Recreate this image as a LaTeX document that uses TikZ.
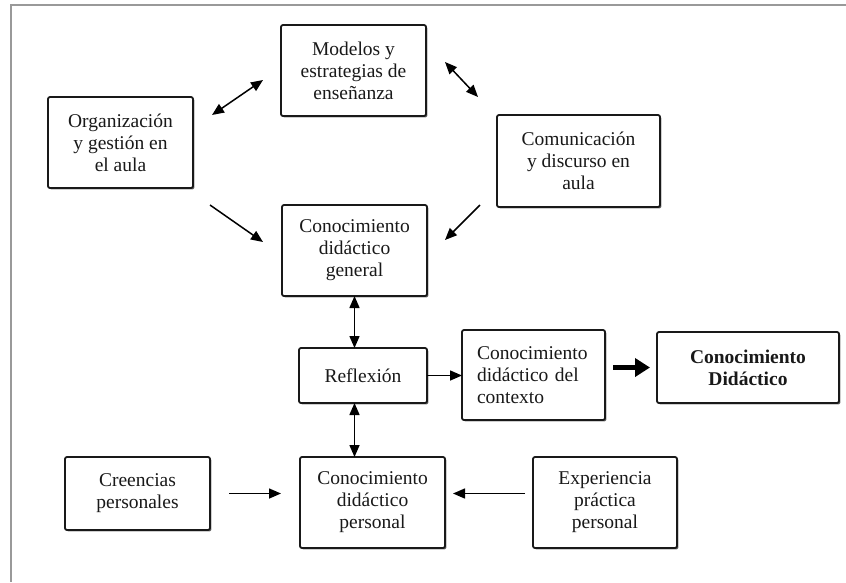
\documentclass[tikz,border=0pt]{standalone}
\usepackage{fontspec}
\setmainfont{Liberation Serif}
\usetikzlibrary{positioning,arrows.meta,shadows}

\begin{document}
\begin{tikzpicture}[
    x=1pt, y=-1pt,
    font=\fontsize{19.5}{22}\selectfont,
    >={Triangle[length=12pt,width=10pt]},
    box/.style={draw, black!90, text=black!90, line width=1.8pt, rounded corners=2pt,
      fill=white, outer sep=0pt, inner sep=3pt, align=center,
      minimum width=145pt, minimum height=91pt,
      drop shadow={shadow xshift=1.4pt, shadow yshift=-1.4pt, fill=black!55, opacity=1}},
    op/.style={->, line width=1.5pt},
    dop/.style={<->, line width=1.5pt},
    fat/.style={-{Triangle[length=15pt,width=18pt]}, line width=5pt},
  ]
  \useasboundingbox (0,0) rectangle (846,582);
  % page frame
  \draw[black!40, line width=2pt] (846,5) -- (11,5) -- (11,582);

  % upper part
  \node[box] (gen) at (354.5,250.5) {Conocimiento\\didáctico\\general};
  \node[box, above=89pt of gen, xshift=-1pt] (mod) {Modelos y\\estrategias de\\enseñanza};
  \node[box, left=88pt of mod, yshift=-72pt] (org) {Organización\\y gestión en\\el aula};
  \node[box, right=71pt of mod, yshift=-90.5pt, minimum width=163pt, minimum height=92pt]
    (com) {Comunicación\\y discurso en\\aula};

  % middle row
  \node[box, below=52pt of gen, xshift=8.5pt, minimum width=128pt, minimum height=55pt]
    (ref) {Reflexión};
  \node[box, right=35pt of ref, yshift=0.5pt, align=left, text width=113pt, inner xsep=15pt,
        minimum width=143pt, minimum height=90pt]
    (ctx) {Conocimiento\\didáctico del\\contexto};
  \node[box, right=52pt of ctx, yshift=7.5pt, minimum width=182pt, minimum height=71pt,
        font=\fontsize{19.5}{22}\selectfont\bfseries]
    (did) {Conocimiento\\Didáctico};

  % bottom row
  \node[box, below=54pt of ref, xshift=9.5pt] (per) {Conocimiento\\didáctico\\personal};
  \node[box, left=90pt of per, yshift=9pt, minimum height=73pt] (cre) {Creencias\\personales};
  \node[box, right=88pt of per, minimum width=144pt] (exp) {Experiencia\\práctica\\personal};

  \draw[dop] ([xshift=19pt,yshift=27.5pt]org.east) -- ([xshift=-18pt,yshift=-9.5pt]mod.west);
  \draw[op] ([xshift=17pt,yshift=-17pt]org.south east) -- ([xshift=-19pt,yshift=8.5pt]gen.west);
  \draw[dop] ([xshift=19pt,yshift=8.5pt]mod.east) -- ([xshift=-19pt,yshift=18pt]com.north west);
  \draw[op] ([xshift=-17pt,yshift=2pt]com.south west) -- ([xshift=18pt,yshift=10.5pt]gen.east);
  \draw[dop] (gen.south) -- (gen.south |- ref.north);
  \draw[dop] (gen.south |- ref.south) -- (gen.south |- per.north);
  \draw[op] (ref.east) -- (ref.east -| ctx.west);
  \draw[fat, shorten <=8pt, shorten >=7pt] (ctx.east |- did.west) -- (did.west);
  \draw[op, shorten <=19pt, shorten >=19pt] (cre.east) -- (cre.east -| per.west);
  \draw[op, shorten <=8pt, shorten >=8pt] (exp.west |- cre.east) -- (cre.east -| per.east);
\end{tikzpicture}
\end{document}
